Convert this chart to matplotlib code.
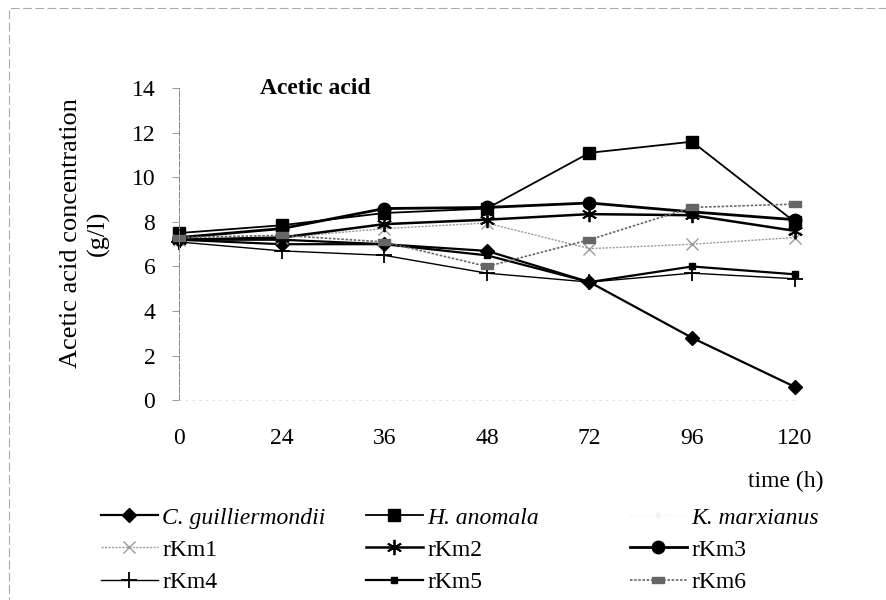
import numpy as np
import matplotlib.pyplot as plt
from matplotlib.patches import Rectangle

plt.rcParams['font.family'] = ['Liberation Serif', 'DejaVu Serif']

times = ['0', '24', '36', '48', '72', '96', '120']

c_guilliermondii = [7.2, 7.0, 7.0, 6.7, 5.3, 2.8, 0.6]
h_anomala = [7.5, 7.85, 8.4, 8.6, 11.1, 11.6, 8.0]
k_marxianus = [7.3, 7.4, 7.9, 8.2, 8.5, 8.3, 8.1]
rkm1 = [7.2, 7.3, 7.7, 7.95, 6.8, 7.0, 7.3]
rkm2 = [7.2, 7.3, 7.9, 8.1, 8.35, 8.3, 7.6]
rkm3 = [7.3, 7.7, 8.6, 8.65, 8.85, 8.45, 8.1]
rkm4 = [7.1, 6.7, 6.5, 5.7, 5.3, 5.7, 5.45]
rkm5 = [7.2, 7.2, 7.0, 6.5, 5.3, 6.0, 5.65]
rkm6 = [7.3, 7.4, 7.1, 6.0, 7.2, 8.65, 8.8]

# wide hatched-looking bar marker for rKm6
bar_marker = [(-1, -0.45), (1, -0.45), (1, 0.45), (-1, 0.45), (-1, -0.45)]

series = [
    ('C. guilliermondii', c_guilliermondii, dict(color='black', lw=1.6, marker='D', ms=7)),
    ('H. anomala', h_anomala, dict(color='black', lw=1.3, marker='s', ms=8)),
    ('K. marxianus', k_marxianus, dict(color='#f2f2f2', lw=1.0, ls=':', marker='o', ms=3)),
    ('rKm1', rkm1, dict(color='#9a9a9a', lw=1.0, ls=(0, (1.5, 1)), marker='x', ms=9, mew=1)),
    ('rKm2', rkm2, dict(color='black', lw=1.8, marker=(6, 2, 0), ms=11, mew=1.3)),
    ('rKm3', rkm3, dict(color='black', lw=2.0, marker='o', ms=9)),
    ('rKm4', rkm4, dict(color='black', lw=1.0, marker='+', ms=11, mew=1.3)),
    ('rKm5', rkm5, dict(color='black', lw=1.6, marker='s', ms=5)),
    ('rKm6', rkm6, dict(color='#666666', lw=1.2, ls=(0, (1.5, 1)), marker=bar_marker, ms=9)),
]

fig = plt.figure(figsize=(8.86, 6.0), dpi=100)
ax = fig.add_axes([0.202, 0.333, 0.695, 0.52])

x = np.arange(len(times))
handles = {}
for name, vals, style in series:
    h, = ax.plot(x, vals, label=name, clip_on=False, **style)
    handles[name] = h

ax.set_xlim(0, len(times) - 1)
ax.set_ylim(0, 14)
ax.set_xticks(x)
ax.set_xticklabels(times)
ax.set_yticks(np.arange(0, 15, 2))
ax.tick_params(axis='both', labelsize=17, colors='#888888', labelcolor='black')
ax.tick_params(axis='x', length=0, pad=20)
ax.tick_params(axis='y', length=5, width=0.6, pad=12)

for side in ['top', 'right']:
    ax.spines[side].set_visible(False)
ax.spines['left'].set_color('#888888')
ax.spines['left'].set_linewidth(0.7)
ax.spines['left'].set_linestyle((0, (6, 2)))
ax.spines['bottom'].set_color('#dddddd')
ax.spines['bottom'].set_linewidth(0.6)
ax.spines['bottom'].set_linestyle((0, (2, 6)))

ax.set_ylabel('Acetic acid concentration\n(g/l)', fontsize=19, linespacing=1.3)
ax.yaxis.set_label_coords(-0.112, 0.535)
ax.text(0.79, 14, 'Acetic acid', fontsize=17, fontweight='bold', ha='left', va='center')
fig.text(0.93, 0.197, 'time (h)', fontsize=17, ha='right', va='center')

# legend laid out as three columns, rows read across
columns = [
    (['C. guilliermondii', 'rKm1', 'rKm4'], 0.114),
    (['H. anomala', 'rKm2', 'rKm5'], 0.413),
    (['K. marxianus', 'rKm3', 'rKm6'], 0.711),
]
for names, x0 in columns:
    leg = fig.legend([handles[n] for n in names], names, loc='upper left',
                     bbox_to_anchor=(x0, 0.155), frameon=False, fontsize=17,
                     handlelength=2.4, handletextpad=0.2, labelspacing=0.45,
                     borderaxespad=0, borderpad=0)
    for t in leg.get_texts():
        if '.' in t.get_text():
            t.set_fontstyle('italic')

# faint outer frame
fig.patches.append(Rectangle((0.01, -0.05), 1.1, 1.037, transform=fig.transFigure,
                             fill=False, edgecolor='#aaaaaa', lw=0.8, ls=(0, (8, 3))))

fig.savefig('out.png', dpi=100)
